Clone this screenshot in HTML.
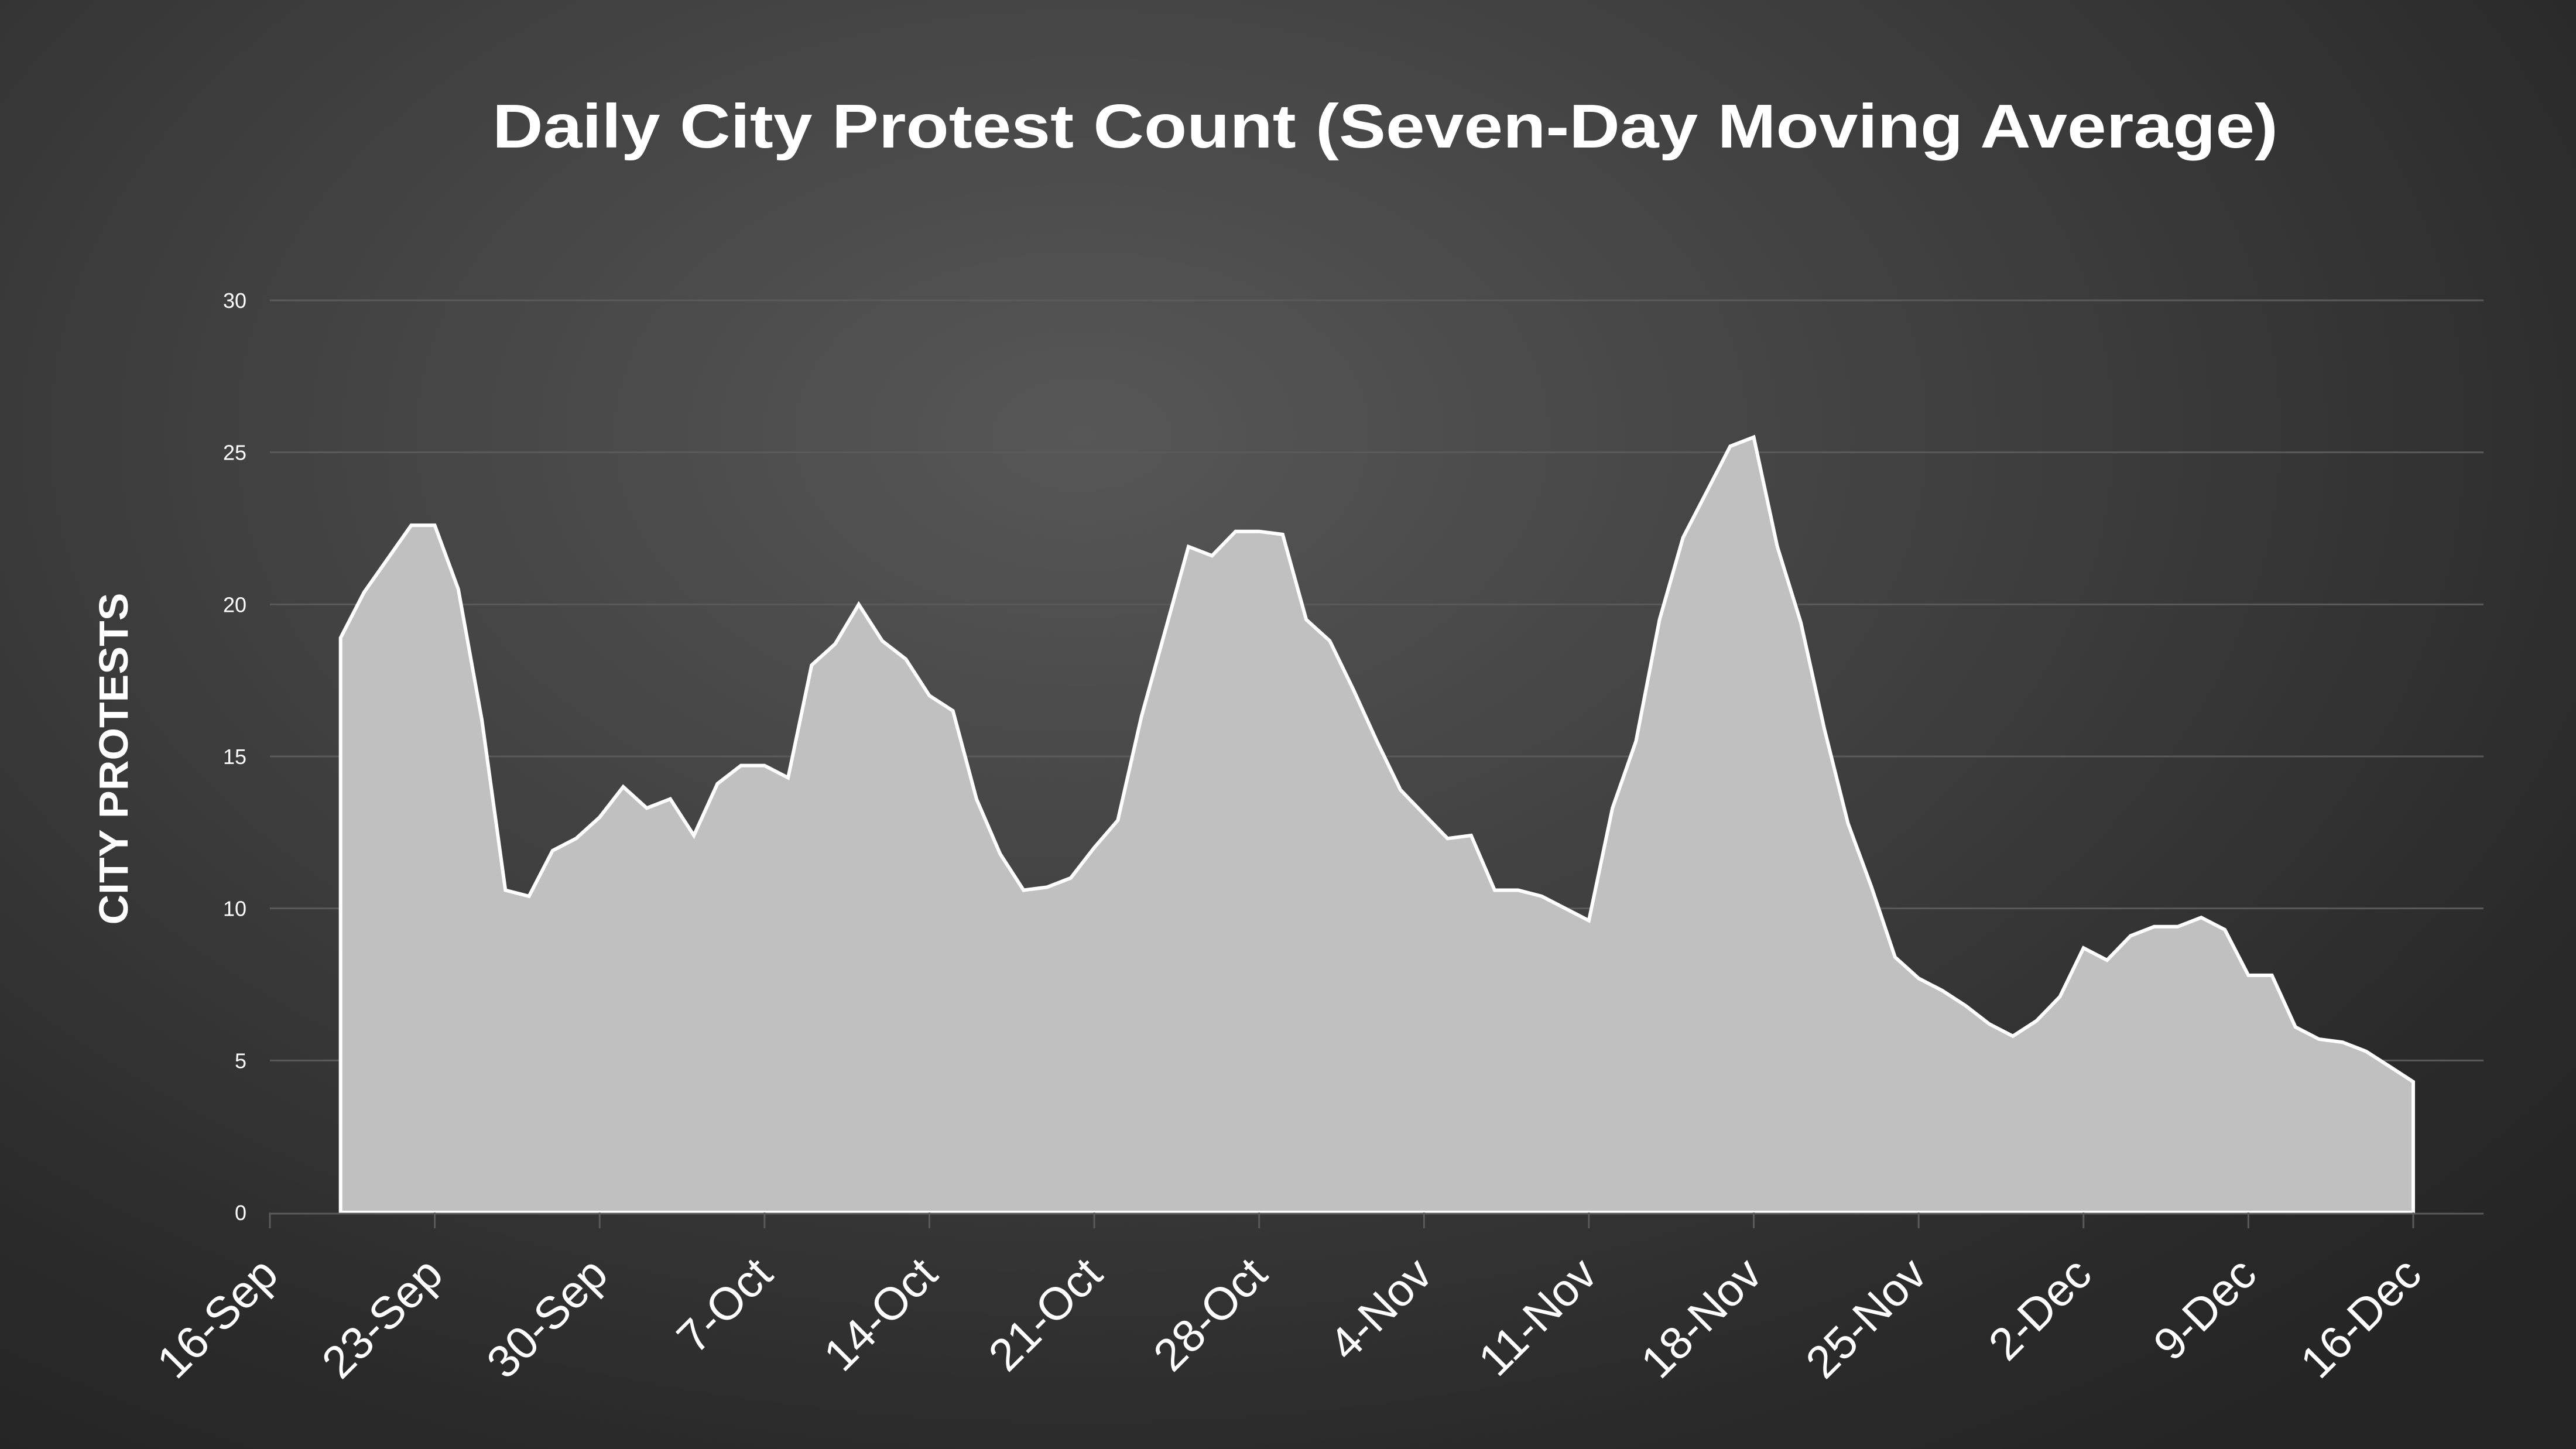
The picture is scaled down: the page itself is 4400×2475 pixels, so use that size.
<!DOCTYPE html>
<html><head><meta charset="utf-8"><style>
html,body{margin:0;padding:0;}
body{width:4400px;height:2475px;overflow:hidden;background:radial-gradient(ellipse 75% 85% at 42% 30%,#575757 0%,#404040 45%,#2a2a2a 85%,#252525 100%);}
svg{display:block;font-family:"Liberation Sans",sans-serif;}
</style></head><body>
<svg id="chart" width="4400" height="2475" viewBox="0 0 4400 2475">
<text x="2366" y="252" text-anchor="middle" fill="#fff" font-weight="bold" font-size="106" textLength="3050" lengthAdjust="spacingAndGlyphs">Daily City Protest Count (Seven-Day Moving Average)</text>
<text transform="translate(218,1296) rotate(-90)" text-anchor="middle" fill="#fff" font-weight="bold" font-size="70" textLength="567" lengthAdjust="spacingAndGlyphs">CITY PROTESTS</text>
<g id="grid"></g><g id="area"></g><g id="xaxis"></g>
</svg>
<script>
const yTicks=[0,5,10,15,20,25,30];
const xTickLabels=["16-Sep","23-Sep","30-Sep","7-Oct","14-Oct","21-Oct","28-Oct","4-Nov","11-Nov","18-Nov","25-Nov","2-Dec","9-Dec","16-Dec"];
const startDay=3;
const protests=[18.9,20.4,21.5,22.6,22.6,20.5,16.2,10.6,10.4,11.9,12.3,13.0,14.0,13.3,13.6,12.4,14.1,14.7,14.7,14.3,18.0,18.7,20.0,
18.8,18.2,17.0,16.5,13.6,11.8,10.6,10.7,11.0,12.0,12.9,16.3,19.1,21.9,21.6,22.4,22.4,22.3,19.5,18.8,17.2,15.5,13.9,13.1,12.3,12.4,10.6,10.6,10.4,10.0,9.6,13.3,15.5,19.5,22.2,23.7,25.2,25.5,21.9,19.4,15.9,12.8,10.7,8.4,7.7,7.3,6.8,6.2,5.8,6.3,7.1,8.7,8.3,9.1,9.4,9.4,9.7,9.3,7.8,7.8,6.1,5.7,5.6,5.3,4.8,4.3];
const NS="http://www.w3.org/2000/svg";
const X0=461,DAYW=(4122-461)/91,Y0=2071,YU=(2071-513)/30;
const xs=d=>X0+d*DAYW, ys=v=>Y0-v*YU;
function mk(t,a,p){const e=document.createElementNS(NS,t);for(const k in a)e.setAttribute(k,a[k]);p.appendChild(e);return e;}
const grid=document.getElementById('grid');
yTicks.forEach(v=>{
  if(v>0){const l=mk('line',{x1:X0,x2:4242,y1:ys(v),y2:ys(v),stroke:'#5a5a5a','stroke-width':3},grid);
  
  }
  const t=mk('text',{x:421,y:ys(v)+13,'text-anchor':'end',fill:'#fff','font-size':36},grid);
  t.textContent=v;
  
  
});
const area=document.getElementById('area');
let pts=protests.map((v,i)=>xs(startDay+i).toFixed(1)+','+ys(v).toFixed(1));
const last=startDay+protests.length-1;
const poly=mk('polygon',{points:xs(startDay)+','+Y0+' '+pts.join(' ')+' '+xs(last)+','+Y0,fill:'#c0c0c0',stroke:'#fff','stroke-width':6,'stroke-linejoin':'miter'},area);


const xa=document.getElementById('xaxis');
const ax=mk('line',{x1:X0,x2:4242,y1:Y0+2,y2:Y0+2,stroke:'#5a5a5a','stroke-width':3},xa);


xTickLabels.forEach((lab,i)=>{
  const x=xs(i*7);
  const tk=mk('line',{x1:x,x2:x,y1:Y0,y2:Y0+27,stroke:'#5a5a5a','stroke-width':3},xa);
  
  
  const t=mk('text',{transform:'translate('+(x+18)+','+(Y0+110)+') rotate(-45)','text-anchor':'end',fill:'#fff','font-size':78},xa);
  t.textContent=lab;
  
  
});
</script>
</body></html>
